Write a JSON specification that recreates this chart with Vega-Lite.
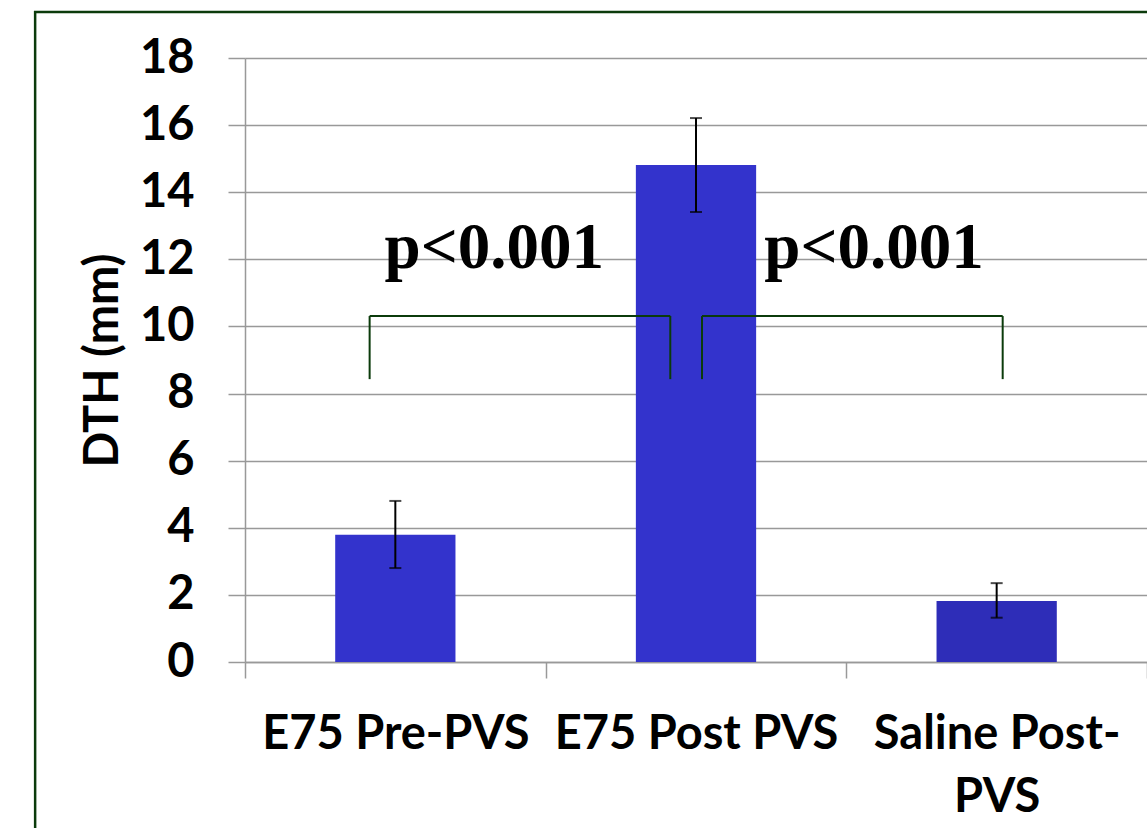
{
  "$schema": "https://vega.github.io/schema/vega-lite/v6.json",
  "width": 902,
  "height": 604,
  "autosize": {"type": "none"},
  "padding": {"left": 245, "top": 58, "right": 0, "bottom": 166},
  "background": "white",
  "config": {
    "view": {"stroke": null},
    "axis": {
      "labelFont": "Lato", "labelFontWeight": "bold", "labelFontSize": 47, "labelColor": "#000000",
      "titleFont": "Lato", "titleFontWeight": "bold", "titleFontSize": 47, "titleColor": "#000000",
      "domainColor": "#999999", "tickColor": "#999999", "gridColor": "#999999",
      "domainWidth": 1.5, "tickWidth": 1.5, "gridWidth": 1.5
    },
    "axisY": {"tickSize": 17, "labelPadding": 34, "titlePadding": 12, "grid": true},
    "axisX": {"tickSize": 16, "tickBand": "extent", "labelPadding": 33, "labelAngle": 0, "grid": false, "labelLimit": 500, "labelLineHeight": 63}
  },
  "datasets": {
    "bars": [
      {"group": "E75 Pre-PVS", "y": 3.79, "lo": 2.8, "hi": 4.8, "c": "#3333cc"},
      {"group": "E75 Post PVS", "y": 14.81, "lo": 13.41, "hi": 16.21, "c": "#3333cc"},
      {"group": "Saline Post-PVS", "y": 1.82, "lo": 1.32, "hi": 2.35, "c": "#2e2db8"}
    ],
    "brackets": [
      {"x": 0.4145, "x2": 1.4145, "y": 10.31, "y2": 10.31},
      {"x": 0.4145, "x2": 0.4145, "y": 8.43, "y2": 10.31},
      {"x": 1.4145, "x2": 1.4145, "y": 8.43, "y2": 10.31},
      {"x": 1.52, "x2": 2.52, "y": 10.31, "y2": 10.31},
      {"x": 1.52, "x2": 1.52, "y": 8.43, "y2": 10.31},
      {"x": 2.52, "x2": 2.52, "y": 8.43, "y2": 10.31}
    ],
    "pvals": [
      {"x": 0.829, "y": 11.74, "t": "p<0.001"},
      {"x": 2.092, "y": 11.74, "t": "p<0.001"}
    ]
  },
  "layer": [
    {
      "data": {"name": "bars"},
      "encoding": {
        "x": {
          "field": "group", "type": "nominal", "sort": null,
          "scale": {"paddingInner": 0, "paddingOuter": 0},
          "axis": {"title": null, "labelExpr": "datum.value == 'Saline Post-PVS' ? ['Saline Post-', 'PVS'] : datum.value"}
        }
      },
      "layer": [
        {
          "mark": {"type": "bar", "width": {"band": 0.4}},
          "encoding": {
            "y": {"field": "y", "type": "quantitative", "title": "DTH (mm)",
                  "scale": {"domain": [0, 18], "nice": false},
                  "axis": {"values": [0, 2, 4, 6, 8, 10, 12, 14, 16, 18]}},
            "color": {"field": "c", "type": "nominal", "scale": null}
          }
        },
        {
          "mark": {"type": "rule", "color": "#000000", "strokeWidth": 2},
          "encoding": {
            "y": {"field": "lo", "type": "quantitative", "title": "DTH (mm)"},
            "y2": {"field": "hi"}
          }
        },
        {
          "mark": {"type": "tick", "color": "#000000", "size": 12, "thickness": 2},
          "encoding": {"y": {"field": "lo", "type": "quantitative", "title": "DTH (mm)"}}
        },
        {
          "mark": {"type": "tick", "color": "#000000", "size": 12, "thickness": 2},
          "encoding": {"y": {"field": "hi", "type": "quantitative", "title": "DTH (mm)"}}
        }
      ]
    },
    {
      "layer": [
        {
          "data": {"name": "brackets"},
          "mark": {"type": "rule", "color": "#0b3b0b", "strokeWidth": 2},
          "encoding": {
            "x": {"field": "x", "type": "quantitative", "scale": {"domain": [0, 3], "nice": false, "zero": false}, "axis": null},
            "x2": {"field": "x2"},
            "y": {"field": "y", "type": "quantitative", "title": "DTH (mm)"},
            "y2": {"field": "y2"}
          }
        },
        {
          "data": {"name": "pvals"},
          "mark": {"type": "text", "font": "Liberation Serif", "fontWeight": "bold", "fontSize": 65, "align": "center", "baseline": "alphabetic", "color": "#000000"},
          "encoding": {
            "x": {"field": "x", "type": "quantitative", "scale": {"domain": [0, 3], "nice": false, "zero": false}, "axis": null},
            "y": {"field": "y", "type": "quantitative", "title": "DTH (mm)"},
            "text": {"field": "t"}
          }
        },
        {
          "data": {"values": [{}]},
          "mark": {"type": "rect", "fill": null, "stroke": "#0b3b0b", "strokeWidth": 2.5, "clip": false},
          "encoding": {
            "x": {"datum": -0.698, "type": "quantitative", "scale": {"domain": [0, 3], "nice": false, "zero": false}, "axis": null},
            "x2": {"datum": 3.3},
            "y": {"datum": 19.37, "type": "quantitative", "title": "DTH (mm)"},
            "y2": {"datum": -6}
          }
        }
      ]
    }
  ],
  "resolve": {"scale": {"x": "independent"}}
}
